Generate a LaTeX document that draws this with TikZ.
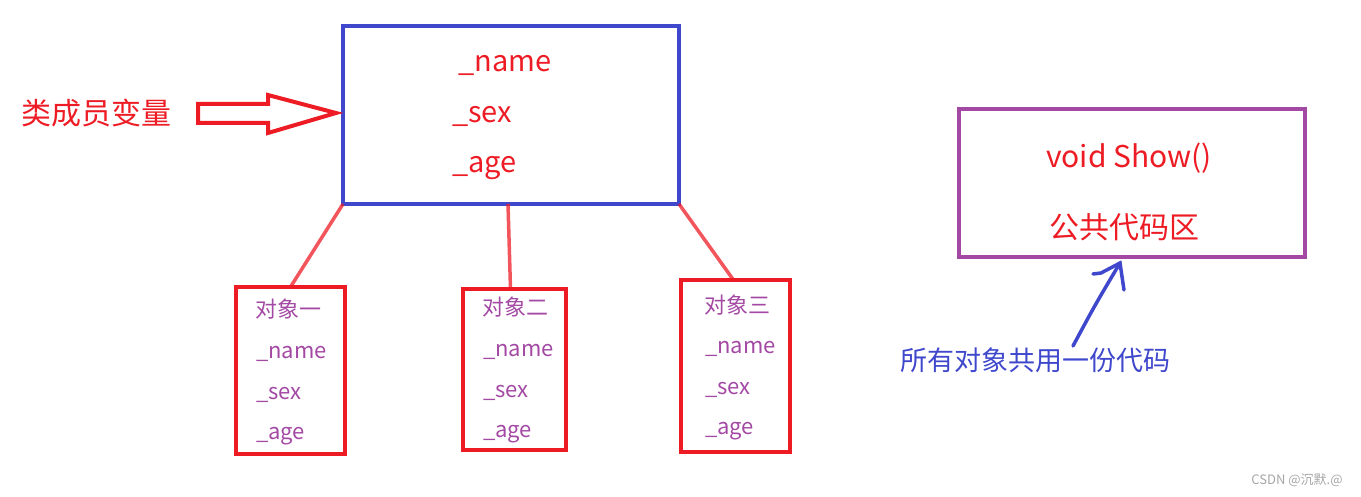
\documentclass[tikz,border=0pt]{standalone}
\usepackage{fontspec}
\setmainfont{Noto Sans CJK SC}
\usepackage{xcolor}
\definecolor{myred}{RGB}{237,28,36}
\definecolor{myblue}{RGB}{63,72,204}
\definecolor{mypurple}{RGB}{163,73,164}

\begin{document}
\begin{tikzpicture}[x=1pt,y=-1pt,
    box/.style={draw,line width=4pt,outer sep=0pt,inner sep=0pt},
    txt/.style={anchor=base west,inner sep=0pt},
    link/.style={myred,opacity=0.75,line width=3.5pt}]
    \useasboundingbox (0,0) rectangle (1361,497);
    % class box
    \node[box,myblue,minimum width=336pt,minimum height=178pt] (cls) at (511,115) {};
    \node[txt,myred,font=\fontsize{29}{29}\selectfont] (n0) at (458,72) {\_name};
    \node[txt,myred,font=\fontsize{29}{29}\selectfont] (s0) at (452,123) {\_sex};
    \node[txt,myred,font=\fontsize{29}{29}\selectfont] (a0) at (452,173) {\_age};
    % label and hollow arrow
    \node[myred,anchor=west,font=\fontsize{30}{30}\selectfont] (lbl) at (18,113) {类成员变量};
    \draw[myred,line width=4pt,line join=miter] (198,104) -- (268,104) -- (268,95)
        -- ([xshift=-7pt,yshift=2pt]cls.west) -- (268,133) -- (268,123) -- (198,123) -- cycle;
    % objects
    \node[box,myred,minimum width=109pt,minimum height=167pt] (obj1) at (290.5,370.5) {};
    \node[box,myred,minimum width=103pt,minimum height=161pt] (obj2) at (514.5,369.5) {};
    \node[box,myred,minimum width=109pt,minimum height=172pt] (obj3) at (735.5,366) {};
    \begin{scope}[every node/.style={txt,mypurple,font=\fontsize{22}{22}\selectfont}]
        \node (t1) at (255,318) {对象一};
        \node at (256,358) {\_name};
        \node at (256,399) {\_sex};
        \node at (256,439) {\_age};
        \node (t2) at (482,316) {对象二};
        \node at (483,356) {\_name};
        \node at (483,397) {\_sex};
        \node at (483,437) {\_age};
        \node (t3) at (704,313) {对象三};
        \node at (705,353) {\_name};
        \node at (705,394) {\_sex};
        \node at (705,434) {\_age};
    \end{scope}
    \draw[link] (cls.south west) -- (obj1.north);
    \draw[link] ([xshift=-3pt]cls.south) -- ([xshift=-4pt]obj2.north);
    \draw[link] (cls.south east) -- ([xshift=-2pt]obj3.north);
    % shared code
    \node[box,mypurple,minimum width=346pt,minimum height=148pt] (code) at (1132,183) {};
    \node[myred,font=\fontsize{30}{30}\selectfont] (show) at (1129,158) {void Show()};
    \node[myred,font=\fontsize{30}{30}\selectfont] (area) at (1124,227) {公共代码区};
    \node[myblue,font=\fontsize{27}{27}\selectfont] (note) at (1035,360) {所有对象共用一份代码};
    \coordinate (tip) at (1120,263);
    \draw[myblue,line width=3.5pt,line cap=round] (1073,346) .. controls (1095,305) .. (tip);
    \draw[myblue,line width=3.5pt,line cap=round] (1093,274) -- (1101,273) -- (tip) -- (1124,290);
    % watermark
    \node[gray!70,font=\fontsize{13}{13}\selectfont] (wm) at (1297,480) {CSDN @沉默.@};
\end{tikzpicture}
\end{document}
